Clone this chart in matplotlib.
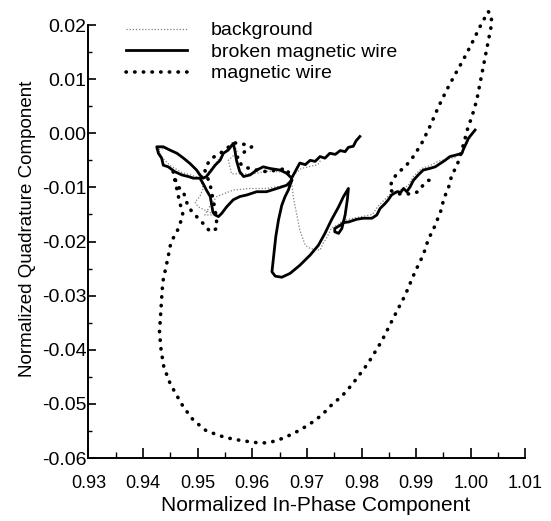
import numpy as np
import matplotlib
matplotlib.use("Agg")
import matplotlib.pyplot as plt
from matplotlib.ticker import MultipleLocator, FormatStrFormatter

plt.rcParams['font.family'] = ['Liberation Sans', 'DejaVu Sans']

# magnetic wire (dotted loop)
mag_x = [0.9672, 0.9663, 0.9645, 0.9626, 0.9608, 0.9583, 0.9571, 0.9590, 0.9599, 0.9577,
         0.9565, 0.9550, 0.9541, 0.9526, 0.9516, 0.9513, 0.9523, 0.9529, 0.9532, 0.9535,
         0.9535, 0.9523, 0.9513, 0.9501, 0.9492, 0.9483, 0.9477, 0.9474, 0.9464, 0.9458,
         0.9455, 0.9466, 0.9473, 0.9468, 0.9462, 0.9455, 0.9449, 0.9446, 0.9440, 0.9436,
         0.9434, 0.9432, 0.9430, 0.9433, 0.9438, 0.9449, 0.9458, 0.9474, 0.9492, 0.9516,
         0.9550, 0.9581, 0.9611, 0.9626, 0.9645, 0.9675, 0.9703, 0.9727, 0.9748, 0.9763,
         0.9783, 0.9812, 0.9837, 0.9858, 0.9880, 0.9898, 0.9913, 0.9922, 0.9935, 0.9941,
         0.9947, 0.9950, 0.9956, 0.9962, 0.9965, 0.9974, 0.9980, 0.9988, 0.9995, 1.0002,
         1.0011, 1.0017, 1.0023, 1.0029, 1.0035, 1.0038, 1.0038, 1.0032, 1.0017, 1.0002,
         0.9986, 0.9971, 0.9956, 0.9941, 0.9925, 0.9910, 0.9895, 0.9880, 0.9865, 0.9855,
         0.9852, 0.9867, 0.9891, 0.9904, 0.9910, 0.9922, 0.9935]
mag_y = [-0.0087, -0.0065, -0.0068, -0.0071, -0.0068, -0.0062, -0.0046, -0.0031, -0.0025, -0.0018,
         -0.0018, -0.0031, -0.0037, -0.0046, -0.0059, -0.0068, -0.0096, -0.0127, -0.0142, -0.0167,
         -0.0176, -0.0182, -0.0170, -0.0157, -0.0148, -0.0136, -0.0120, -0.0108, -0.0099, -0.0083,
         -0.0071, -0.0123, -0.0151, -0.0166, -0.0182, -0.0194, -0.0210, -0.0228, -0.0256, -0.0275,
         -0.0305, -0.0336, -0.0367, -0.0401, -0.0432, -0.0461, -0.0478, -0.0506, -0.0530, -0.0550,
         -0.0562, -0.0568, -0.0572, -0.0572, -0.0568, -0.0555, -0.0539, -0.0521, -0.0499, -0.0487,
         -0.0464, -0.0425, -0.0384, -0.0342, -0.0299, -0.0256, -0.0225, -0.0197, -0.0170, -0.0154,
         -0.0139, -0.0123, -0.0108, -0.0093, -0.0077, -0.0062, -0.0044, -0.0016, 0.0011, 0.0030,
         0.0061, 0.0092, 0.0123, 0.0154, 0.0185, 0.0200, 0.0218, 0.0225, 0.0197, 0.0166,
         0.0135, 0.0108, 0.0080, 0.0049, 0.0012, -0.0019, -0.0043, -0.0062, -0.0074, -0.0090,
         -0.0105, -0.0112, -0.0112, -0.0108, -0.0099, -0.0087, -0.0087]

# broken magnetic wire (solid)
broken_x = [1.0008, 0.9996, 0.9986, 0.9984, 0.9974, 0.9962, 0.9953, 0.9944, 0.9935, 0.9925,
            0.9913, 0.9904, 0.9895, 0.9889, 0.9883, 0.9877, 0.9872, 0.9865, 0.9855, 0.9849,
            0.9843, 0.9834, 0.9828, 0.9819, 0.9803, 0.9791, 0.9776, 0.9767, 0.9761, 0.9751,
            0.9751, 0.9758, 0.9764, 0.9770, 0.9774, 0.9776, 0.9767, 0.9758, 0.9745, 0.9733,
            0.9721, 0.9706, 0.9687, 0.9669, 0.9654, 0.9642, 0.9636, 0.9639, 0.9643, 0.9648,
            0.9654, 0.9660, 0.9666, 0.9672, 0.9663, 0.9645, 0.9626, 0.9608, 0.9590, 0.9577,
            0.9565, 0.9553, 0.9544, 0.9538, 0.9532, 0.9528, 0.9523, 0.9516, 0.9510, 0.9504,
            0.9492, 0.9483, 0.9471, 0.9458, 0.9446, 0.9437, 0.9434, 0.9428, 0.9425,
            0.9437, 0.9449, 0.9462, 0.9474, 0.9486, 0.9498, 0.9504, 0.9510,
            0.9516, 0.9523, 0.9532, 0.9541, 0.9547, 0.9556, 0.9565, 0.9568, 0.9571, 0.9577,
            0.9584, 0.9596, 0.9608, 0.9620, 0.9632, 0.9651, 0.9663, 0.9672,
            0.9687, 0.9697, 0.9706, 0.9715, 0.9724, 0.9733, 0.9742, 0.9752, 0.9761, 0.9770,
            0.9776, 0.9785, 0.9790, 0.9797]
broken_y = [0.0006, -0.0009, -0.0031, -0.0037, -0.0040, -0.0043, -0.0050, -0.0056, -0.0062, -0.0065,
            -0.0068, -0.0077, -0.0087, -0.0099, -0.0108, -0.0102, -0.0109, -0.0108, -0.0114, -0.0123,
            -0.0130, -0.0139, -0.0151, -0.0157, -0.0157, -0.0159, -0.0164, -0.0165, -0.0170, -0.0176,
            -0.0182, -0.0185, -0.0176, -0.0151, -0.0123, -0.0102, -0.0117, -0.0136, -0.0160, -0.0185,
            -0.0207, -0.0225, -0.0244, -0.0259, -0.0266, -0.0264, -0.0256, -0.0228, -0.0191, -0.0160,
            -0.0133, -0.0117, -0.0105, -0.0087, -0.0096, -0.0102, -0.0108, -0.0108, -0.0114, -0.0117,
            -0.0123, -0.0136, -0.0148, -0.0154, -0.0151, -0.0146, -0.0117, -0.0105, -0.0093, -0.0083,
            -0.0083, -0.0080, -0.0077, -0.0071, -0.0062, -0.0059, -0.0046, -0.0037, -0.0025,
            -0.0025, -0.0031, -0.0037, -0.0046, -0.0056, -0.0068, -0.0077, -0.0083,
            -0.0080, -0.0071, -0.0059, -0.0050, -0.0037, -0.0031, -0.0019, -0.0031, -0.0050, -0.0071,
            -0.0080, -0.0077, -0.0068, -0.0062, -0.0065, -0.0068, -0.0074, -0.0083,
            -0.0055, -0.0058, -0.0050, -0.0052, -0.0043, -0.0046, -0.0037, -0.0039, -0.0032, -0.0034,
            -0.0026, -0.0024, -0.0014, -0.0006]

# background (thin dotted)
bg_x = [1.0005, 0.9995, 0.9985, 0.9970, 0.9955, 0.9940, 0.9925, 0.9910, 0.9895, 0.9885,
        0.9870, 0.9855, 0.9845, 0.9830, 0.9820, 0.9800, 0.9780, 0.9765, 0.9755, 0.9745,
        0.9738, 0.9730, 0.9724, 0.9706, 0.9697, 0.9687, 0.9681, 0.9675, 0.9672,
        0.9663, 0.9626, 0.9596, 0.9565, 0.9535, 0.9523, 0.9513, 0.9532, 0.9501, 0.9495,
        0.9504, 0.9510, 0.9504, 0.9490, 0.9470, 0.9450, 0.9435, 0.9428, 0.9440, 0.9460,
        0.9480, 0.9500, 0.9512, 0.9525, 0.9545, 0.9558, 0.9565, 0.9572, 0.9556, 0.9559,
        0.9562, 0.9600, 0.9630, 0.9660, 0.9672, 0.9690, 0.9720, 0.9725]
bg_y = [0.0002, -0.0015, -0.0035, -0.0045, -0.0048, -0.0052, -0.0060, -0.0065, -0.0080, -0.0097,
        -0.0105, -0.0110, -0.0120, -0.0135, -0.0150, -0.0154, -0.0158, -0.0162, -0.0170, -0.0175,
        -0.0190, -0.0203, -0.0216, -0.0213, -0.0207, -0.0179, -0.0148, -0.0117, -0.0087,
        -0.0096, -0.0102, -0.0102, -0.0105, -0.0117, -0.0133, -0.0151, -0.0151, -0.0136, -0.0127,
        -0.0117, -0.0102, -0.0083, -0.0078, -0.0072, -0.0060, -0.0045, -0.0030, -0.0028, -0.0036,
        -0.0050, -0.0070, -0.0082, -0.0065, -0.0040, -0.0025, -0.0015, -0.0035, -0.0050, -0.0062,
        -0.0075, -0.0075, -0.0070, -0.0072, -0.0080, -0.0065, -0.0058, -0.0050]

x_ticks = [0.93, 0.94, 0.95, 0.96, 0.97, 0.98, 0.99, 1.00, 1.01]
y_ticks = [-0.06, -0.05, -0.04, -0.03, -0.02, -0.01, 0.00, 0.01, 0.02]

fig = plt.figure(figsize=(5.51, 5.21), dpi=100)
ax = fig.add_axes([0.1606, 0.1209, 0.7928, 0.8311])

ax.plot(bg_x, bg_y, color="#808080", linestyle=(0, (1, 1.5)), linewidth=0.9,
        label="background")
ax.plot(broken_x, broken_y, color="black", linestyle="-", linewidth=2.0,
        solid_joinstyle="round", label="broken magnetic wire")
ax.plot(mag_x, mag_y, color="black", linestyle=(0, (0.1, 2.3)), linewidth=2.6,
        dash_capstyle="round", clip_on=False, label="magnetic wire")

ax.set_xlim(0.93, 1.01)
ax.set_ylim(-0.06, 0.02)
ax.set_xticks(x_ticks)
ax.set_yticks(y_ticks)
ax.xaxis.set_minor_locator(MultipleLocator(0.005))
ax.yaxis.set_minor_locator(MultipleLocator(0.005))
ax.xaxis.set_major_formatter(FormatStrFormatter("%.2f"))
ax.yaxis.set_major_formatter(FormatStrFormatter("%.2f"))

for s in ["top", "right"]:
    ax.spines[s].set_visible(False)
for s in ["left", "bottom"]:
    ax.spines[s].set_linewidth(1.4)

ax.tick_params(axis="x", which="major", direction="in", length=7, width=1.2,
               labelsize=13, pad=12.5)
ax.tick_params(axis="x", which="minor", direction="in", length=4, width=1.0)
ax.tick_params(axis="y", which="major", direction="in", length=5.5, width=1.2,
               labelsize=14, pad=1.5)
ax.tick_params(axis="y", which="minor", direction="in", length=3, width=1.0)

ax.set_xlabel("Normalized In-Phase Component", fontsize=15)
ax.set_ylabel("Normalized Quadrature Component", fontsize=13.5)
ax.xaxis.set_label_coords(0.52, -0.088)
ax.yaxis.set_label_coords(-0.12, 0.53)

ax.legend(loc="upper left", bbox_to_anchor=(0.228, 0.958), bbox_transform=fig.transFigure,
          frameon=False, fontsize=14, handlelength=3.17, handletextpad=1.2,
          labelspacing=0.2, borderpad=0, borderaxespad=0)

fig.savefig("out.png", dpi=100)
